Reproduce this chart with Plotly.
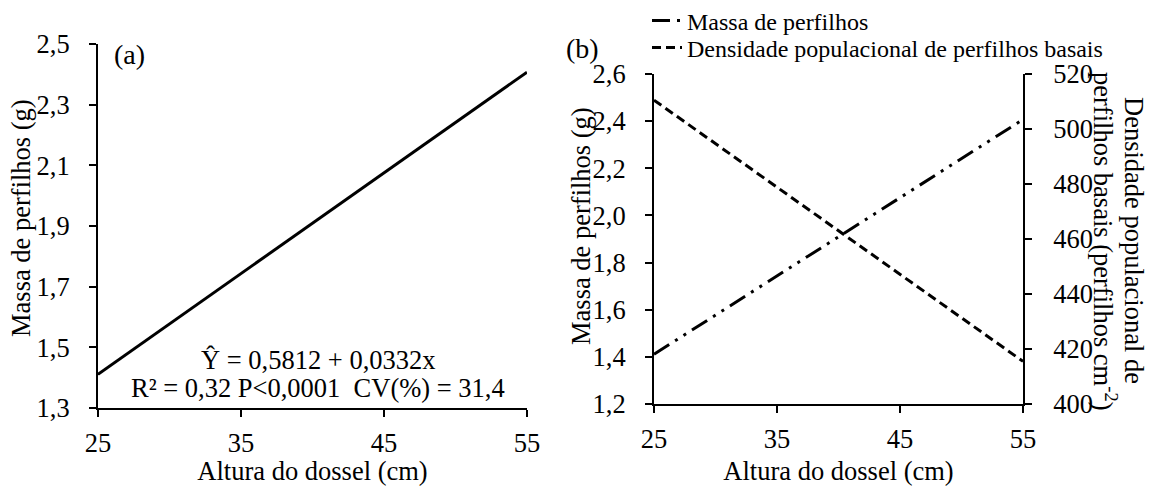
import plotly.graph_objects as go

# Data
altura = [25, 55]
massa_a = [1.4112, 2.4072]
massa_b = [1.4112, 2.4072]
densidade_b = [510.5, 415.5]

x_ticks = [25, 35, 45, 55]
FF = "Liberation Serif"
FS = 26.5

W, H = 1151, 486
def px_x(p): return p / W
def px_y(p): return 1 - p / H

fig = go.Figure()

fig.add_trace(go.Scatter(x=altura, y=massa_a, mode="lines", xaxis="x", yaxis="y",
                         line=dict(color="black", width=3), showlegend=False))
fig.add_trace(go.Scatter(x=altura, y=massa_b, mode="lines", xaxis="x2", yaxis="y2",
                         name="Massa de perfilhos", legend="legend",
                         line=dict(color="black", width=3, dash="18px,7px,3px,7px,3px,7px")))
fig.add_trace(go.Scatter(x=altura, y=densidade_b, mode="lines", xaxis="x2", yaxis="y3",
                         name="Densidade populacional de perfilhos basais", legend="legend2",
                         line=dict(color="black", width=3, dash="9px,5px")))

axis_common = dict(showgrid=False, zeroline=False, showline=True, linecolor="black",
                   linewidth=2, ticks="outside", ticklen=7, tickwidth=2, tickcolor="black",
                   automargin=False,
                   tickfont=dict(family=FF, size=FS, color="black"))

leg_common = dict(xanchor="left", yanchor="middle", bgcolor="rgba(0,0,0,0)",
                  font=dict(family=FF, size=24, color="black"), borderwidth=0)

fig.update_layout(
    width=W, height=H,
    margin=dict(l=0, r=0, t=0, b=0, pad=0, autoexpand=False),
    plot_bgcolor="white", paper_bgcolor="white",
    separators=",.",
    font=dict(family=FF, size=FS, color="black"),
    showlegend=True,
    xaxis=dict(domain=[px_x(98), px_x(527)], anchor="y", range=[25, 55],
               tickvals=x_ticks, ticklabelstandoff=3,
               title=dict(text="Altura do dossel (cm)", standoff=14,
                          font=dict(family=FF, size=FS)), **axis_common),
    yaxis=dict(domain=[px_y(408), px_y(44)], anchor="x", range=[1.3, 2.5], dtick=0.2,
               tick0=1.3, tickformat=".1f", ticklabelstandoff=14, **axis_common),
    xaxis2=dict(domain=[px_x(654), px_x(1023)], anchor="y2", range=[25, 55],
                tickvals=x_ticks, ticklabelstandoff=3,
                title=dict(text="Altura do dossel (cm)", standoff=14,
                           font=dict(family=FF, size=FS)), **axis_common),
    yaxis2=dict(domain=[px_y(404), px_y(74)], anchor="x2", range=[1.2, 2.6], dtick=0.2,
                tick0=1.2, tickformat=".1f", ticklabelstandoff=14, **axis_common),
    yaxis3=dict(domain=[px_y(404), px_y(74)], anchor="x2", overlaying="y2", side="right",
                range=[400, 520], dtick=20, ticklabelstandoff=16, **axis_common),
    legend=dict(x=px_x(647), y=px_y(21), **leg_common),
    legend2=dict(x=px_x(647), y=px_y(48), **leg_common),
)

fig.add_annotation(text="Massa de perfilhos (g)", xref="paper", yref="paper",
                   x=px_x(21), y=px_y(218), textangle=-90, showarrow=False,
                   xanchor="center", yanchor="middle", font=dict(family=FF, size=FS))
fig.add_annotation(text="Massa de perfilhos (g)", xref="paper", yref="paper",
                   x=px_x(581), y=px_y(226), textangle=-90, showarrow=False,
                   xanchor="center", yanchor="middle", font=dict(family=FF, size=FS))
fig.add_annotation(text="(a)", xref="paper", yref="paper", x=px_x(112), y=px_y(55),
                   xanchor="left", yanchor="middle", showarrow=False,
                   font=dict(family=FF, size=28))
fig.add_annotation(text="(b)", xref="paper", yref="paper", x=px_x(564), y=px_y(48),
                   xanchor="left", yanchor="middle", showarrow=False,
                   font=dict(family=FF, size=28))
fig.add_annotation(text="Ŷ = 0,5812 + 0,0332x", xref="x", yref="y", x=40.4, y=1.458,
                   showarrow=False, font=dict(family=FF, size=FS))
fig.add_annotation(text="R² = 0,32 P&lt;0,0001  CV(%) = 31,4", xref="x", yref="y", x=40.4, y=1.366,
                   showarrow=False, font=dict(family=FF, size=FS))
fig.add_annotation(text="Densidade populacional de",
                   xref="paper", yref="paper", x=px_x(1134), y=px_y(240),
                   textangle=90, showarrow=False, xanchor="center", yanchor="middle",
                   font=dict(family=FF, size=FS))
fig.add_annotation(text="perfilhos basais (perfilhos cm<sup>-2</sup>)",
                   xref="paper", yref="paper", x=px_x(1105), y=px_y(241),
                   textangle=90, showarrow=False, xanchor="center", yanchor="middle",
                   font=dict(family=FF, size=FS))

fig.write_html("out.html")
